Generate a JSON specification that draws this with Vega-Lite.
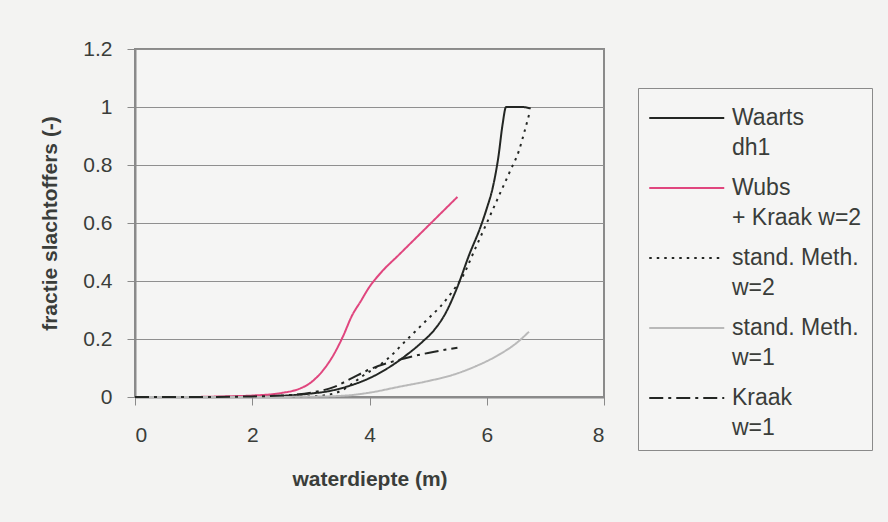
{
  "$schema": "https://vega.github.io/schema/vega-lite/v6.json",
  "autosize": {"type": "none"},
  "width": 469,
  "height": 348,
  "padding": {"left": 135, "top": 49, "right": 284, "bottom": 125},
  "background": "#f3f3f2",
  "config": {
    "font": "Liberation Sans",
    "view": {"stroke": "#8a8a8a", "strokeWidth": 2, "fill": "#f5f5f4"},
    "axis": {
      "labelFont": "Liberation Sans",
      "titleFont": "Liberation Sans",
      "labelColor": "#3a3d3a",
      "titleColor": "#3a3d3a",
      "labelFontSize": 21,
      "titleFontSize": 21,
      "titleFontWeight": "bold",
      "domainColor": "#8a8a8a",
      "domainWidth": 2,
      "tickColor": "#8a8a8a",
      "tickSize": 8,
      "gridColor": "#8f8f8f",
      "gridWidth": 1.2
    }
  },
  "data": {
    "values": [
      {"x": 0, "y": 0, "s": "Waarts|dh1"},
      {"x": 1, "y": 0, "s": "Waarts|dh1"},
      {"x": 2, "y": 0.001, "s": "Waarts|dh1"},
      {"x": 2.5, "y": 0.004, "s": "Waarts|dh1"},
      {"x": 3.0, "y": 0.012, "s": "Waarts|dh1"},
      {"x": 3.3, "y": 0.02, "s": "Waarts|dh1"},
      {"x": 3.6, "y": 0.035, "s": "Waarts|dh1"},
      {"x": 4.0, "y": 0.065, "s": "Waarts|dh1"},
      {"x": 4.3, "y": 0.098, "s": "Waarts|dh1"},
      {"x": 4.6, "y": 0.14, "s": "Waarts|dh1"},
      {"x": 4.9, "y": 0.19, "s": "Waarts|dh1"},
      {"x": 5.1, "y": 0.23, "s": "Waarts|dh1"},
      {"x": 5.3, "y": 0.29, "s": "Waarts|dh1"},
      {"x": 5.5, "y": 0.38, "s": "Waarts|dh1"},
      {"x": 5.7, "y": 0.49, "s": "Waarts|dh1"},
      {"x": 5.9, "y": 0.59, "s": "Waarts|dh1"},
      {"x": 6.0, "y": 0.65, "s": "Waarts|dh1"},
      {"x": 6.1, "y": 0.72, "s": "Waarts|dh1"},
      {"x": 6.2, "y": 0.83, "s": "Waarts|dh1"},
      {"x": 6.27, "y": 0.94, "s": "Waarts|dh1"},
      {"x": 6.33, "y": 1.0, "s": "Waarts|dh1"},
      {"x": 6.6, "y": 1.0, "s": "Waarts|dh1"},
      {"x": 6.75, "y": 0.995, "s": "Waarts|dh1"},

      {"x": 1.0, "y": 0, "s": "Wubs|+ Kraak w=2"},
      {"x": 1.5, "y": 0.002, "s": "Wubs|+ Kraak w=2"},
      {"x": 2.0, "y": 0.005, "s": "Wubs|+ Kraak w=2"},
      {"x": 2.5, "y": 0.014, "s": "Wubs|+ Kraak w=2"},
      {"x": 2.8, "y": 0.028, "s": "Wubs|+ Kraak w=2"},
      {"x": 3.0, "y": 0.05, "s": "Wubs|+ Kraak w=2"},
      {"x": 3.2, "y": 0.09, "s": "Wubs|+ Kraak w=2"},
      {"x": 3.4, "y": 0.15, "s": "Wubs|+ Kraak w=2"},
      {"x": 3.55, "y": 0.21, "s": "Wubs|+ Kraak w=2"},
      {"x": 3.7, "y": 0.28, "s": "Wubs|+ Kraak w=2"},
      {"x": 3.85, "y": 0.33, "s": "Wubs|+ Kraak w=2"},
      {"x": 4.0, "y": 0.38, "s": "Wubs|+ Kraak w=2"},
      {"x": 4.2, "y": 0.43, "s": "Wubs|+ Kraak w=2"},
      {"x": 4.5, "y": 0.49, "s": "Wubs|+ Kraak w=2"},
      {"x": 5.0, "y": 0.59, "s": "Wubs|+ Kraak w=2"},
      {"x": 5.5, "y": 0.69, "s": "Wubs|+ Kraak w=2"},

      {"x": 0, "y": 0, "s": "stand. Meth.|w=2"},
      {"x": 1, "y": 0, "s": "stand. Meth.|w=2"},
      {"x": 2, "y": 0, "s": "stand. Meth.|w=2"},
      {"x": 3.0, "y": 0.002, "s": "stand. Meth.|w=2"},
      {"x": 3.3, "y": 0.008, "s": "stand. Meth.|w=2"},
      {"x": 3.5, "y": 0.02, "s": "stand. Meth.|w=2"},
      {"x": 3.7, "y": 0.045, "s": "stand. Meth.|w=2"},
      {"x": 3.9, "y": 0.075, "s": "stand. Meth.|w=2"},
      {"x": 4.1, "y": 0.1, "s": "stand. Meth.|w=2"},
      {"x": 4.3, "y": 0.13, "s": "stand. Meth.|w=2"},
      {"x": 4.6, "y": 0.19, "s": "stand. Meth.|w=2"},
      {"x": 4.8, "y": 0.23, "s": "stand. Meth.|w=2"},
      {"x": 5.0, "y": 0.27, "s": "stand. Meth.|w=2"},
      {"x": 5.2, "y": 0.31, "s": "stand. Meth.|w=2"},
      {"x": 5.4, "y": 0.36, "s": "stand. Meth.|w=2"},
      {"x": 5.6, "y": 0.42, "s": "stand. Meth.|w=2"},
      {"x": 5.8, "y": 0.51, "s": "stand. Meth.|w=2"},
      {"x": 6.0, "y": 0.6, "s": "stand. Meth.|w=2"},
      {"x": 6.2, "y": 0.69, "s": "stand. Meth.|w=2"},
      {"x": 6.4, "y": 0.78, "s": "stand. Meth.|w=2"},
      {"x": 6.55, "y": 0.85, "s": "stand. Meth.|w=2"},
      {"x": 6.65, "y": 0.92, "s": "stand. Meth.|w=2"},
      {"x": 6.73, "y": 0.98, "s": "stand. Meth.|w=2"},

      {"x": 0, "y": 0, "s": "stand. Meth.|w=1"},
      {"x": 2, "y": 0, "s": "stand. Meth.|w=1"},
      {"x": 3, "y": 0.001, "s": "stand. Meth.|w=1"},
      {"x": 3.6, "y": 0.005, "s": "stand. Meth.|w=1"},
      {"x": 4.0, "y": 0.015, "s": "stand. Meth.|w=1"},
      {"x": 4.5, "y": 0.035, "s": "stand. Meth.|w=1"},
      {"x": 5.0, "y": 0.055, "s": "stand. Meth.|w=1"},
      {"x": 5.4, "y": 0.075, "s": "stand. Meth.|w=1"},
      {"x": 5.8, "y": 0.105, "s": "stand. Meth.|w=1"},
      {"x": 6.2, "y": 0.145, "s": "stand. Meth.|w=1"},
      {"x": 6.5, "y": 0.185, "s": "stand. Meth.|w=1"},
      {"x": 6.72, "y": 0.225, "s": "stand. Meth.|w=1"},

      {"x": 0, "y": 0, "s": "Kraak|w=1"},
      {"x": 1, "y": 0, "s": "Kraak|w=1"},
      {"x": 2, "y": 0.002, "s": "Kraak|w=1"},
      {"x": 2.5, "y": 0.005, "s": "Kraak|w=1"},
      {"x": 3.0, "y": 0.015, "s": "Kraak|w=1"},
      {"x": 3.4, "y": 0.035, "s": "Kraak|w=1"},
      {"x": 3.7, "y": 0.065, "s": "Kraak|w=1"},
      {"x": 4.0, "y": 0.095, "s": "Kraak|w=1"},
      {"x": 4.5, "y": 0.128, "s": "Kraak|w=1"},
      {"x": 5.0, "y": 0.152, "s": "Kraak|w=1"},
      {"x": 5.5, "y": 0.17, "s": "Kraak|w=1"}
    ]
  },
  "mark": {"type": "line", "interpolate": "monotone", "strokeWidth": 2},
  "encoding": {
    "x": {
      "field": "x", "type": "quantitative",
      "scale": {"domain": [0, 8], "nice": false},
      "axis": {"values": [0, 2, 4, 6, 8], "grid": false, "title": "waterdiepte (m)", "labelPadding": 19, "titlePadding": 23}
    },
    "y": {
      "field": "y", "type": "quantitative",
      "scale": {"domain": [0, 1.2], "nice": false},
      "axis": {"values": [0, 0.2, 0.4, 0.6, 0.8, 1, 1.2], "format": ".1~f", "grid": true, "title": "fractie slachtoffers (-)", "labelPadding": 15, "titlePadding": 22}
    },
    "color": {
      "field": "s", "type": "nominal",
      "scale": {
        "domain": ["Waarts|dh1", "Wubs|+ Kraak w=2", "stand. Meth.|w=2", "stand. Meth.|w=1", "Kraak|w=1"],
        "range": ["#232623", "#e0467e", "#232623", "#b9b9b9", "#232623"]
      },
      "legend": {
        "title": null,
        "orient": "none",
        "legendX": 503,
        "legendY": 39,
        "padding": 10,
        "strokeColor": "#8a8a8a",
        "fillColor": "#f5f5f4",
        "symbolType": "M-1,0H3",
        "symbolSize": 1406,
        "symbolStrokeWidth": 2,
        "labelFont": "Liberation Sans",
        "labelFontSize": 23,
        "labelColor": "#3a3d3a",
        "labelLimit": 300,
        "labelOffset": 44,
        "labelBaseline": "middle",
        "labelExpr": "split(datum.label, '|')",
        "rowPadding": 8,
        "encode": {"labels": {"update": {"lineHeight": {"value": 30}}}}
      }
    },
    "strokeDash": {
      "field": "s", "type": "nominal",
      "scale": {
        "domain": ["Waarts|dh1", "Wubs|+ Kraak w=2", "stand. Meth.|w=2", "stand. Meth.|w=1", "Kraak|w=1"],
        "range": [[1, 0], [1, 0], [2.5, 5], [1, 0], [14, 5, 3, 5]]
      },
      "legend": null
    }
  }
}
